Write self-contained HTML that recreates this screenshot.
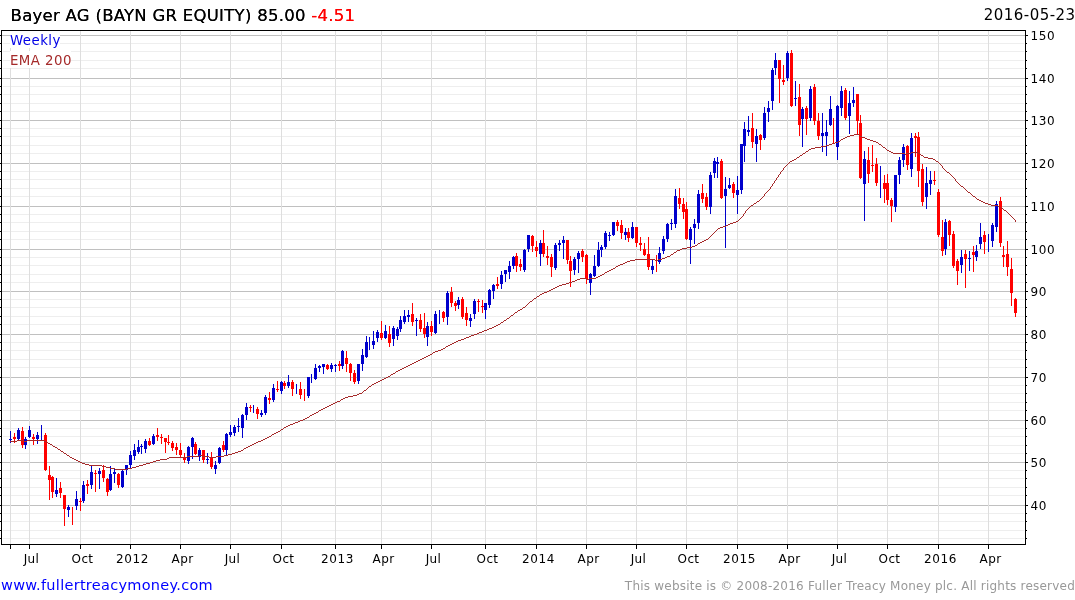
<!DOCTYPE html>
<html lang="en"><head><meta charset="utf-8"><title>Bayer AG (BAYN GR EQUITY) Weekly</title>
<style>
html,body{margin:0;padding:0;background:#fff}
body{width:1075px;height:600px;position:relative;overflow:hidden;font-family:"DejaVu Sans","Liberation Sans",sans-serif}
.t{position:absolute;white-space:nowrap;line-height:1;color:#000}
.ttl{text-shadow:0 0 0 currentColor}
.ttl{font-size:16.5px;letter-spacing:0.27px}
.dat{font-size:15px;letter-spacing:0.45px}
.lg{font-size:13.33px;letter-spacing:0.45px;height:17px;line-height:19px;background:#fff;overflow:hidden}
.ax{font-size:12px;letter-spacing:0.37px}
.num{letter-spacing:0.62px}
.xl{width:61px;text-align:center}
.ft{font-size:14.5px;letter-spacing:0.28px}
.cp{font-size:12px;letter-spacing:0.215px}
.red{color:#ff0000}
</style></head><body>
<svg width="1075" height="600" viewBox="0 0 1075 600" style="position:absolute;left:0;top:0">
<g shape-rendering="crispEdges">
<g fill="#eeeeee">
<rect x="3" y="513" width="1021" height="1"/>
<rect x="3" y="521" width="1021" height="1"/>
<rect x="3" y="530" width="1021" height="1"/>
<rect x="3" y="538" width="1021" height="1"/>
<rect x="3" y="470" width="1021" height="1"/>
<rect x="3" y="478" width="1021" height="1"/>
<rect x="3" y="487" width="1021" height="1"/>
<rect x="3" y="495" width="1021" height="1"/>
<rect x="3" y="428" width="1021" height="1"/>
<rect x="3" y="436" width="1021" height="1"/>
<rect x="3" y="445" width="1021" height="1"/>
<rect x="3" y="453" width="1021" height="1"/>
<rect x="3" y="385" width="1021" height="1"/>
<rect x="3" y="393" width="1021" height="1"/>
<rect x="3" y="402" width="1021" height="1"/>
<rect x="3" y="410" width="1021" height="1"/>
<rect x="3" y="342" width="1021" height="1"/>
<rect x="3" y="350" width="1021" height="1"/>
<rect x="3" y="359" width="1021" height="1"/>
<rect x="3" y="367" width="1021" height="1"/>
<rect x="3" y="299" width="1021" height="1"/>
<rect x="3" y="307" width="1021" height="1"/>
<rect x="3" y="316" width="1021" height="1"/>
<rect x="3" y="324" width="1021" height="1"/>
<rect x="3" y="257" width="1021" height="1"/>
<rect x="3" y="265" width="1021" height="1"/>
<rect x="3" y="274" width="1021" height="1"/>
<rect x="3" y="282" width="1021" height="1"/>
<rect x="3" y="214" width="1021" height="1"/>
<rect x="3" y="222" width="1021" height="1"/>
<rect x="3" y="231" width="1021" height="1"/>
<rect x="3" y="239" width="1021" height="1"/>
<rect x="3" y="171" width="1021" height="1"/>
<rect x="3" y="179" width="1021" height="1"/>
<rect x="3" y="188" width="1021" height="1"/>
<rect x="3" y="196" width="1021" height="1"/>
<rect x="3" y="128" width="1021" height="1"/>
<rect x="3" y="136" width="1021" height="1"/>
<rect x="3" y="145" width="1021" height="1"/>
<rect x="3" y="153" width="1021" height="1"/>
<rect x="3" y="86" width="1021" height="1"/>
<rect x="3" y="94" width="1021" height="1"/>
<rect x="3" y="103" width="1021" height="1"/>
<rect x="3" y="111" width="1021" height="1"/>
<rect x="3" y="43" width="1021" height="1"/>
<rect x="3" y="51" width="1021" height="1"/>
<rect x="3" y="60" width="1021" height="1"/>
<rect x="3" y="68" width="1021" height="1"/>
</g>
<g fill="#c0c0c0">
<rect x="2" y="505" width="1023" height="1"/>
<rect x="2" y="462" width="1023" height="1"/>
<rect x="2" y="420" width="1023" height="1"/>
<rect x="2" y="377" width="1023" height="1"/>
<rect x="2" y="334" width="1023" height="1"/>
<rect x="2" y="291" width="1023" height="1"/>
<rect x="2" y="249" width="1023" height="1"/>
<rect x="2" y="206" width="1023" height="1"/>
<rect x="2" y="163" width="1023" height="1"/>
<rect x="2" y="120" width="1023" height="1"/>
<rect x="2" y="78" width="1023" height="1"/>
<rect x="2" y="35" width="1023" height="1"/>
</g>
<g fill="#dedede">
<rect x="10" y="31" width="1" height="513"/>
<rect x="29" y="31" width="1" height="513"/>
<rect x="80" y="31" width="1" height="513"/>
<rect x="130" y="31" width="1" height="513"/>
<rect x="180" y="31" width="1" height="513"/>
<rect x="230" y="31" width="1" height="513"/>
<rect x="281" y="31" width="1" height="513"/>
<rect x="335" y="31" width="1" height="513"/>
<rect x="381" y="31" width="1" height="513"/>
<rect x="431" y="31" width="1" height="513"/>
<rect x="485" y="31" width="1" height="513"/>
<rect x="536" y="31" width="1" height="513"/>
<rect x="586" y="31" width="1" height="513"/>
<rect x="636" y="31" width="1" height="513"/>
<rect x="686" y="31" width="1" height="513"/>
<rect x="737" y="31" width="1" height="513"/>
<rect x="787" y="31" width="1" height="513"/>
<rect x="837" y="31" width="1" height="513"/>
<rect x="887" y="31" width="1" height="513"/>
<rect x="938" y="31" width="1" height="513"/>
<rect x="988" y="31" width="1" height="513"/>
</g>
<g fill="#000">
<rect x="1" y="30" width="1025" height="1"/>
<rect x="1" y="544" width="1025" height="1"/>
<rect x="1" y="30" width="1" height="515"/>
<rect x="1025" y="30" width="1" height="515"/>
<rect x="10" y="545" width="1" height="4"/>
<rect x="29" y="545" width="1" height="4"/>
<rect x="80" y="545" width="1" height="4"/>
<rect x="130" y="545" width="1" height="4"/>
<rect x="180" y="545" width="1" height="4"/>
<rect x="230" y="545" width="1" height="4"/>
<rect x="281" y="545" width="1" height="4"/>
<rect x="335" y="545" width="1" height="4"/>
<rect x="381" y="545" width="1" height="4"/>
<rect x="431" y="545" width="1" height="4"/>
<rect x="485" y="545" width="1" height="4"/>
<rect x="536" y="545" width="1" height="4"/>
<rect x="586" y="545" width="1" height="4"/>
<rect x="636" y="545" width="1" height="4"/>
<rect x="686" y="545" width="1" height="4"/>
<rect x="737" y="545" width="1" height="4"/>
<rect x="787" y="545" width="1" height="4"/>
<rect x="837" y="545" width="1" height="4"/>
<rect x="887" y="545" width="1" height="4"/>
<rect x="938" y="545" width="1" height="4"/>
<rect x="988" y="545" width="1" height="4"/>
<rect x="1026" y="505" width="2" height="1"/>
<rect x="0" y="505" width="1" height="1"/>
<rect x="1026" y="513" width="1" height="1"/>
<rect x="0" y="513" width="1" height="1"/>
<rect x="1026" y="521" width="1" height="1"/>
<rect x="0" y="521" width="1" height="1"/>
<rect x="1026" y="530" width="1" height="1"/>
<rect x="0" y="530" width="1" height="1"/>
<rect x="1026" y="538" width="1" height="1"/>
<rect x="0" y="538" width="1" height="1"/>
<rect x="1026" y="462" width="2" height="1"/>
<rect x="0" y="462" width="1" height="1"/>
<rect x="1026" y="470" width="1" height="1"/>
<rect x="0" y="470" width="1" height="1"/>
<rect x="1026" y="478" width="1" height="1"/>
<rect x="0" y="478" width="1" height="1"/>
<rect x="1026" y="487" width="1" height="1"/>
<rect x="0" y="487" width="1" height="1"/>
<rect x="1026" y="495" width="1" height="1"/>
<rect x="0" y="495" width="1" height="1"/>
<rect x="1026" y="420" width="2" height="1"/>
<rect x="0" y="420" width="1" height="1"/>
<rect x="1026" y="428" width="1" height="1"/>
<rect x="0" y="428" width="1" height="1"/>
<rect x="1026" y="436" width="1" height="1"/>
<rect x="0" y="436" width="1" height="1"/>
<rect x="1026" y="445" width="1" height="1"/>
<rect x="0" y="445" width="1" height="1"/>
<rect x="1026" y="453" width="1" height="1"/>
<rect x="0" y="453" width="1" height="1"/>
<rect x="1026" y="377" width="2" height="1"/>
<rect x="0" y="377" width="1" height="1"/>
<rect x="1026" y="385" width="1" height="1"/>
<rect x="0" y="385" width="1" height="1"/>
<rect x="1026" y="393" width="1" height="1"/>
<rect x="0" y="393" width="1" height="1"/>
<rect x="1026" y="402" width="1" height="1"/>
<rect x="0" y="402" width="1" height="1"/>
<rect x="1026" y="410" width="1" height="1"/>
<rect x="0" y="410" width="1" height="1"/>
<rect x="1026" y="334" width="2" height="1"/>
<rect x="0" y="334" width="1" height="1"/>
<rect x="1026" y="342" width="1" height="1"/>
<rect x="0" y="342" width="1" height="1"/>
<rect x="1026" y="350" width="1" height="1"/>
<rect x="0" y="350" width="1" height="1"/>
<rect x="1026" y="359" width="1" height="1"/>
<rect x="0" y="359" width="1" height="1"/>
<rect x="1026" y="367" width="1" height="1"/>
<rect x="0" y="367" width="1" height="1"/>
<rect x="1026" y="291" width="2" height="1"/>
<rect x="0" y="291" width="1" height="1"/>
<rect x="1026" y="299" width="1" height="1"/>
<rect x="0" y="299" width="1" height="1"/>
<rect x="1026" y="307" width="1" height="1"/>
<rect x="0" y="307" width="1" height="1"/>
<rect x="1026" y="316" width="1" height="1"/>
<rect x="0" y="316" width="1" height="1"/>
<rect x="1026" y="324" width="1" height="1"/>
<rect x="0" y="324" width="1" height="1"/>
<rect x="1026" y="249" width="2" height="1"/>
<rect x="0" y="249" width="1" height="1"/>
<rect x="1026" y="257" width="1" height="1"/>
<rect x="0" y="257" width="1" height="1"/>
<rect x="1026" y="265" width="1" height="1"/>
<rect x="0" y="265" width="1" height="1"/>
<rect x="1026" y="274" width="1" height="1"/>
<rect x="0" y="274" width="1" height="1"/>
<rect x="1026" y="282" width="1" height="1"/>
<rect x="0" y="282" width="1" height="1"/>
<rect x="1026" y="206" width="2" height="1"/>
<rect x="0" y="206" width="1" height="1"/>
<rect x="1026" y="214" width="1" height="1"/>
<rect x="0" y="214" width="1" height="1"/>
<rect x="1026" y="222" width="1" height="1"/>
<rect x="0" y="222" width="1" height="1"/>
<rect x="1026" y="231" width="1" height="1"/>
<rect x="0" y="231" width="1" height="1"/>
<rect x="1026" y="239" width="1" height="1"/>
<rect x="0" y="239" width="1" height="1"/>
<rect x="1026" y="163" width="2" height="1"/>
<rect x="0" y="163" width="1" height="1"/>
<rect x="1026" y="171" width="1" height="1"/>
<rect x="0" y="171" width="1" height="1"/>
<rect x="1026" y="179" width="1" height="1"/>
<rect x="0" y="179" width="1" height="1"/>
<rect x="1026" y="188" width="1" height="1"/>
<rect x="0" y="188" width="1" height="1"/>
<rect x="1026" y="196" width="1" height="1"/>
<rect x="0" y="196" width="1" height="1"/>
<rect x="1026" y="120" width="2" height="1"/>
<rect x="0" y="120" width="1" height="1"/>
<rect x="1026" y="128" width="1" height="1"/>
<rect x="0" y="128" width="1" height="1"/>
<rect x="1026" y="136" width="1" height="1"/>
<rect x="0" y="136" width="1" height="1"/>
<rect x="1026" y="145" width="1" height="1"/>
<rect x="0" y="145" width="1" height="1"/>
<rect x="1026" y="153" width="1" height="1"/>
<rect x="0" y="153" width="1" height="1"/>
<rect x="1026" y="78" width="2" height="1"/>
<rect x="0" y="78" width="1" height="1"/>
<rect x="1026" y="86" width="1" height="1"/>
<rect x="0" y="86" width="1" height="1"/>
<rect x="1026" y="94" width="1" height="1"/>
<rect x="0" y="94" width="1" height="1"/>
<rect x="1026" y="103" width="1" height="1"/>
<rect x="0" y="103" width="1" height="1"/>
<rect x="1026" y="111" width="1" height="1"/>
<rect x="0" y="111" width="1" height="1"/>
<rect x="1026" y="35" width="2" height="1"/>
<rect x="0" y="35" width="1" height="1"/>
<rect x="1026" y="43" width="1" height="1"/>
<rect x="0" y="43" width="1" height="1"/>
<rect x="1026" y="51" width="1" height="1"/>
<rect x="0" y="51" width="1" height="1"/>
<rect x="1026" y="60" width="1" height="1"/>
<rect x="0" y="60" width="1" height="1"/>
<rect x="1026" y="68" width="1" height="1"/>
<rect x="0" y="68" width="1" height="1"/>
</g>
</g>
<g shape-rendering="crispEdges">
<g fill="#0000cc">
<rect x="10" y="431" width="1" height="12"/>
<rect x="9" y="439" width="3" height="1"/>
<rect x="18" y="428" width="1" height="12"/>
<rect x="17" y="430" width="3" height="9"/>
<rect x="25" y="437" width="1" height="12"/>
<rect x="24" y="439" width="3" height="6"/>
<rect x="29" y="426" width="1" height="12"/>
<rect x="28" y="430" width="3" height="7"/>
<rect x="37" y="432" width="1" height="12"/>
<rect x="36" y="435" width="3" height="4"/>
<rect x="41" y="425" width="1" height="15"/>
<rect x="56" y="478" width="1" height="19"/>
<rect x="55" y="490" width="3" height="4"/>
<rect x="68" y="505" width="1" height="12"/>
<rect x="67" y="507" width="3" height="3"/>
<rect x="76" y="491" width="1" height="19"/>
<rect x="75" y="499" width="3" height="7"/>
<rect x="83" y="481" width="1" height="22"/>
<rect x="82" y="485" width="3" height="16"/>
<rect x="91" y="466" width="1" height="23"/>
<rect x="90" y="472" width="3" height="13"/>
<rect x="99" y="468" width="1" height="21"/>
<rect x="98" y="471" width="3" height="3"/>
<rect x="110" y="466" width="1" height="25"/>
<rect x="109" y="474" width="3" height="16"/>
<rect x="114" y="469" width="1" height="14"/>
<rect x="113" y="472" width="3" height="2"/>
<rect x="122" y="470" width="1" height="18"/>
<rect x="121" y="471" width="3" height="16"/>
<rect x="126" y="465" width="1" height="10"/>
<rect x="125" y="465" width="3" height="5"/>
<rect x="130" y="451" width="1" height="17"/>
<rect x="129" y="455" width="3" height="10"/>
<rect x="134" y="444" width="1" height="16"/>
<rect x="133" y="450" width="3" height="6"/>
<rect x="138" y="440" width="1" height="14"/>
<rect x="137" y="447" width="3" height="5"/>
<rect x="141" y="444" width="1" height="10"/>
<rect x="140" y="446" width="3" height="1"/>
<rect x="145" y="439" width="1" height="14"/>
<rect x="144" y="441" width="3" height="8"/>
<rect x="153" y="434" width="1" height="11"/>
<rect x="152" y="436" width="3" height="8"/>
<rect x="188" y="446" width="1" height="18"/>
<rect x="187" y="447" width="3" height="14"/>
<rect x="192" y="437" width="1" height="22"/>
<rect x="191" y="438" width="3" height="9"/>
<rect x="199" y="448" width="1" height="13"/>
<rect x="198" y="450" width="3" height="7"/>
<rect x="207" y="453" width="1" height="11"/>
<rect x="206" y="459" width="3" height="1"/>
<rect x="215" y="461" width="1" height="13"/>
<rect x="214" y="465" width="3" height="4"/>
<rect x="219" y="447" width="1" height="17"/>
<rect x="218" y="448" width="3" height="15"/>
<rect x="226" y="433" width="1" height="22"/>
<rect x="225" y="434" width="3" height="16"/>
<rect x="230" y="425" width="1" height="12"/>
<rect x="229" y="432" width="3" height="3"/>
<rect x="234" y="425" width="1" height="11"/>
<rect x="233" y="427" width="3" height="6"/>
<rect x="238" y="418" width="1" height="14"/>
<rect x="237" y="426" width="3" height="1"/>
<rect x="242" y="414" width="1" height="24"/>
<rect x="241" y="415" width="3" height="13"/>
<rect x="246" y="403" width="1" height="17"/>
<rect x="245" y="407" width="3" height="8"/>
<rect x="253" y="405" width="1" height="8"/>
<rect x="261" y="410" width="1" height="7"/>
<rect x="260" y="413" width="3" height="2"/>
<rect x="265" y="395" width="1" height="20"/>
<rect x="264" y="397" width="3" height="16"/>
<rect x="273" y="384" width="1" height="18"/>
<rect x="272" y="388" width="3" height="12"/>
<rect x="281" y="381" width="1" height="13"/>
<rect x="280" y="382" width="3" height="9"/>
<rect x="288" y="375" width="1" height="13"/>
<rect x="287" y="382" width="3" height="4"/>
<rect x="296" y="384" width="1" height="10"/>
<rect x="308" y="377" width="1" height="21"/>
<rect x="307" y="377" width="3" height="19"/>
<rect x="311" y="374" width="1" height="9"/>
<rect x="315" y="364" width="1" height="16"/>
<rect x="314" y="368" width="3" height="11"/>
<rect x="319" y="365" width="1" height="7"/>
<rect x="318" y="366" width="3" height="2"/>
<rect x="323" y="364" width="1" height="10"/>
<rect x="322" y="364" width="3" height="3"/>
<rect x="331" y="363" width="1" height="9"/>
<rect x="330" y="365" width="3" height="4"/>
<rect x="335" y="364" width="1" height="8"/>
<rect x="334" y="365" width="3" height="1"/>
<rect x="342" y="350" width="1" height="19"/>
<rect x="341" y="351" width="3" height="15"/>
<rect x="358" y="364" width="1" height="20"/>
<rect x="357" y="364" width="3" height="17"/>
<rect x="362" y="349" width="1" height="22"/>
<rect x="361" y="355" width="3" height="9"/>
<rect x="366" y="336" width="1" height="22"/>
<rect x="365" y="342" width="3" height="15"/>
<rect x="369" y="337" width="1" height="13"/>
<rect x="373" y="331" width="1" height="18"/>
<rect x="372" y="341" width="3" height="4"/>
<rect x="377" y="330" width="1" height="12"/>
<rect x="376" y="332" width="3" height="6"/>
<rect x="385" y="325" width="1" height="14"/>
<rect x="384" y="331" width="3" height="7"/>
<rect x="393" y="326" width="1" height="20"/>
<rect x="392" y="328" width="3" height="11"/>
<rect x="397" y="327" width="1" height="13"/>
<rect x="396" y="329" width="3" height="7"/>
<rect x="400" y="316" width="1" height="16"/>
<rect x="399" y="320" width="3" height="9"/>
<rect x="404" y="310" width="1" height="14"/>
<rect x="403" y="316" width="3" height="6"/>
<rect x="408" y="310" width="1" height="12"/>
<rect x="407" y="315" width="3" height="2"/>
<rect x="416" y="318" width="1" height="18"/>
<rect x="415" y="320" width="3" height="1"/>
<rect x="427" y="322" width="1" height="24"/>
<rect x="426" y="326" width="3" height="11"/>
<rect x="435" y="311" width="1" height="23"/>
<rect x="434" y="314" width="3" height="19"/>
<rect x="439" y="310" width="1" height="14"/>
<rect x="447" y="291" width="1" height="34"/>
<rect x="446" y="293" width="3" height="24"/>
<rect x="458" y="297" width="1" height="12"/>
<rect x="457" y="300" width="3" height="5"/>
<rect x="470" y="314" width="1" height="13"/>
<rect x="469" y="318" width="3" height="3"/>
<rect x="474" y="299" width="1" height="20"/>
<rect x="473" y="301" width="3" height="13"/>
<rect x="485" y="303" width="1" height="16"/>
<rect x="484" y="303" width="3" height="7"/>
<rect x="489" y="289" width="1" height="19"/>
<rect x="488" y="290" width="3" height="15"/>
<rect x="493" y="284" width="1" height="15"/>
<rect x="492" y="285" width="3" height="6"/>
<rect x="501" y="271" width="1" height="18"/>
<rect x="500" y="275" width="3" height="9"/>
<rect x="505" y="270" width="1" height="12"/>
<rect x="504" y="270" width="3" height="4"/>
<rect x="509" y="261" width="1" height="18"/>
<rect x="508" y="266" width="3" height="6"/>
<rect x="513" y="256" width="1" height="13"/>
<rect x="512" y="257" width="3" height="9"/>
<rect x="524" y="249" width="1" height="23"/>
<rect x="523" y="250" width="3" height="20"/>
<rect x="528" y="235" width="1" height="17"/>
<rect x="527" y="235" width="3" height="14"/>
<rect x="540" y="240" width="1" height="26"/>
<rect x="539" y="243" width="3" height="11"/>
<rect x="555" y="243" width="1" height="27"/>
<rect x="554" y="245" width="3" height="23"/>
<rect x="559" y="240" width="1" height="11"/>
<rect x="558" y="243" width="3" height="2"/>
<rect x="563" y="236" width="1" height="23"/>
<rect x="562" y="240" width="3" height="3"/>
<rect x="574" y="257" width="1" height="18"/>
<rect x="573" y="259" width="3" height="11"/>
<rect x="578" y="251" width="1" height="22"/>
<rect x="577" y="253" width="3" height="6"/>
<rect x="590" y="273" width="1" height="22"/>
<rect x="589" y="274" width="3" height="9"/>
<rect x="594" y="255" width="1" height="22"/>
<rect x="593" y="266" width="3" height="10"/>
<rect x="598" y="242" width="1" height="25"/>
<rect x="597" y="250" width="3" height="16"/>
<rect x="601" y="245" width="1" height="12"/>
<rect x="600" y="247" width="3" height="3"/>
<rect x="605" y="231" width="1" height="18"/>
<rect x="604" y="233" width="3" height="14"/>
<rect x="609" y="232" width="1" height="9"/>
<rect x="608" y="235" width="3" height="1"/>
<rect x="613" y="222" width="1" height="14"/>
<rect x="612" y="222" width="3" height="13"/>
<rect x="625" y="228" width="1" height="12"/>
<rect x="624" y="232" width="3" height="3"/>
<rect x="632" y="222" width="1" height="17"/>
<rect x="631" y="227" width="3" height="11"/>
<rect x="652" y="260" width="1" height="14"/>
<rect x="651" y="266" width="3" height="4"/>
<rect x="659" y="247" width="1" height="17"/>
<rect x="658" y="253" width="3" height="9"/>
<rect x="663" y="236" width="1" height="18"/>
<rect x="662" y="239" width="3" height="12"/>
<rect x="667" y="223" width="1" height="19"/>
<rect x="666" y="224" width="3" height="15"/>
<rect x="671" y="219" width="1" height="11"/>
<rect x="670" y="223" width="3" height="1"/>
<rect x="675" y="189" width="1" height="39"/>
<rect x="674" y="196" width="3" height="28"/>
<rect x="690" y="227" width="1" height="37"/>
<rect x="689" y="229" width="3" height="11"/>
<rect x="694" y="219" width="1" height="25"/>
<rect x="693" y="224" width="3" height="4"/>
<rect x="698" y="190" width="1" height="39"/>
<rect x="697" y="194" width="3" height="29"/>
<rect x="710" y="172" width="1" height="42"/>
<rect x="709" y="175" width="3" height="32"/>
<rect x="714" y="158" width="1" height="20"/>
<rect x="713" y="161" width="3" height="12"/>
<rect x="717" y="157" width="1" height="21"/>
<rect x="716" y="162" width="3" height="2"/>
<rect x="725" y="177" width="1" height="71"/>
<rect x="724" y="189" width="3" height="7"/>
<rect x="729" y="178" width="1" height="11"/>
<rect x="728" y="185" width="3" height="3"/>
<rect x="737" y="176" width="1" height="38"/>
<rect x="736" y="190" width="3" height="5"/>
<rect x="741" y="144" width="1" height="50"/>
<rect x="740" y="144" width="3" height="46"/>
<rect x="744" y="122" width="1" height="40"/>
<rect x="743" y="129" width="3" height="17"/>
<rect x="748" y="116" width="1" height="20"/>
<rect x="747" y="130" width="3" height="2"/>
<rect x="756" y="129" width="1" height="33"/>
<rect x="755" y="136" width="3" height="8"/>
<rect x="764" y="107" width="1" height="33"/>
<rect x="763" y="113" width="3" height="25"/>
<rect x="768" y="101" width="1" height="21"/>
<rect x="767" y="108" width="3" height="4"/>
<rect x="772" y="68" width="1" height="42"/>
<rect x="771" y="70" width="3" height="31"/>
<rect x="775" y="53" width="1" height="22"/>
<rect x="774" y="60" width="3" height="8"/>
<rect x="787" y="51" width="1" height="30"/>
<rect x="786" y="53" width="3" height="25"/>
<rect x="795" y="81" width="1" height="25"/>
<rect x="794" y="98" width="3" height="1"/>
<rect x="802" y="107" width="1" height="40"/>
<rect x="801" y="109" width="3" height="10"/>
<rect x="810" y="86" width="1" height="35"/>
<rect x="809" y="89" width="3" height="29"/>
<rect x="822" y="113" width="1" height="39"/>
<rect x="821" y="133" width="3" height="3"/>
<rect x="826" y="120" width="1" height="36"/>
<rect x="825" y="132" width="3" height="4"/>
<rect x="830" y="96" width="1" height="30"/>
<rect x="829" y="109" width="3" height="16"/>
<rect x="837" y="105" width="1" height="55"/>
<rect x="836" y="106" width="3" height="41"/>
<rect x="841" y="86" width="1" height="30"/>
<rect x="840" y="91" width="3" height="17"/>
<rect x="849" y="91" width="1" height="43"/>
<rect x="848" y="103" width="3" height="13"/>
<rect x="853" y="87" width="1" height="20"/>
<rect x="852" y="100" width="3" height="3"/>
<rect x="864" y="151" width="1" height="70"/>
<rect x="863" y="159" width="3" height="25"/>
<rect x="880" y="166" width="1" height="32"/>
<rect x="895" y="175" width="1" height="37"/>
<rect x="894" y="175" width="3" height="32"/>
<rect x="899" y="157" width="1" height="27"/>
<rect x="898" y="160" width="3" height="15"/>
<rect x="903" y="144" width="1" height="23"/>
<rect x="902" y="147" width="3" height="13"/>
<rect x="911" y="133" width="1" height="44"/>
<rect x="910" y="138" width="3" height="31"/>
<rect x="926" y="167" width="1" height="42"/>
<rect x="925" y="183" width="3" height="14"/>
<rect x="930" y="171" width="1" height="24"/>
<rect x="929" y="180" width="3" height="4"/>
<rect x="945" y="219" width="1" height="36"/>
<rect x="944" y="222" width="3" height="27"/>
<rect x="961" y="250" width="1" height="23"/>
<rect x="960" y="257" width="3" height="8"/>
<rect x="969" y="251" width="1" height="20"/>
<rect x="968" y="258" width="3" height="1"/>
<rect x="976" y="245" width="1" height="16"/>
<rect x="975" y="251" width="3" height="6"/>
<rect x="980" y="223" width="1" height="26"/>
<rect x="979" y="237" width="3" height="7"/>
<rect x="988" y="234" width="1" height="18"/>
<rect x="992" y="223" width="1" height="24"/>
<rect x="991" y="225" width="3" height="16"/>
<rect x="996" y="201" width="1" height="31"/>
<rect x="995" y="204" width="3" height="23"/>
</g>
<g fill="#ff0000">
<rect x="14" y="433" width="1" height="10"/>
<rect x="13" y="437" width="3" height="2"/>
<rect x="22" y="427" width="1" height="21"/>
<rect x="21" y="431" width="3" height="14"/>
<rect x="33" y="434" width="1" height="11"/>
<rect x="32" y="437" width="3" height="2"/>
<rect x="45" y="433" width="1" height="38"/>
<rect x="44" y="435" width="3" height="35"/>
<rect x="49" y="466" width="1" height="34"/>
<rect x="48" y="475" width="3" height="5"/>
<rect x="52" y="476" width="1" height="22"/>
<rect x="51" y="477" width="3" height="15"/>
<rect x="60" y="482" width="1" height="16"/>
<rect x="59" y="488" width="3" height="5"/>
<rect x="64" y="495" width="1" height="31"/>
<rect x="63" y="495" width="3" height="14"/>
<rect x="72" y="507" width="1" height="18"/>
<rect x="80" y="498" width="1" height="13"/>
<rect x="79" y="501" width="3" height="1"/>
<rect x="87" y="480" width="1" height="14"/>
<rect x="86" y="484" width="3" height="2"/>
<rect x="95" y="470" width="1" height="22"/>
<rect x="94" y="473" width="3" height="1"/>
<rect x="103" y="465" width="1" height="17"/>
<rect x="102" y="470" width="3" height="8"/>
<rect x="107" y="478" width="1" height="18"/>
<rect x="106" y="479" width="3" height="13"/>
<rect x="118" y="473" width="1" height="15"/>
<rect x="117" y="474" width="3" height="11"/>
<rect x="149" y="438" width="1" height="8"/>
<rect x="148" y="441" width="3" height="4"/>
<rect x="157" y="428" width="1" height="13"/>
<rect x="156" y="435" width="3" height="2"/>
<rect x="161" y="434" width="1" height="10"/>
<rect x="160" y="437" width="3" height="1"/>
<rect x="165" y="438" width="1" height="15"/>
<rect x="164" y="438" width="3" height="4"/>
<rect x="168" y="435" width="1" height="10"/>
<rect x="167" y="442" width="3" height="1"/>
<rect x="172" y="441" width="1" height="10"/>
<rect x="171" y="443" width="3" height="5"/>
<rect x="176" y="443" width="1" height="12"/>
<rect x="175" y="447" width="3" height="3"/>
<rect x="180" y="443" width="1" height="14"/>
<rect x="179" y="450" width="3" height="5"/>
<rect x="184" y="453" width="1" height="10"/>
<rect x="183" y="457" width="3" height="3"/>
<rect x="195" y="442" width="1" height="13"/>
<rect x="194" y="444" width="3" height="10"/>
<rect x="203" y="450" width="1" height="13"/>
<rect x="202" y="450" width="3" height="10"/>
<rect x="211" y="452" width="1" height="17"/>
<rect x="210" y="458" width="3" height="9"/>
<rect x="223" y="441" width="1" height="11"/>
<rect x="222" y="445" width="3" height="5"/>
<rect x="250" y="405" width="1" height="7"/>
<rect x="249" y="407" width="3" height="1"/>
<rect x="257" y="407" width="1" height="12"/>
<rect x="256" y="409" width="3" height="5"/>
<rect x="269" y="392" width="1" height="12"/>
<rect x="268" y="398" width="3" height="2"/>
<rect x="277" y="381" width="1" height="11"/>
<rect x="276" y="389" width="3" height="1"/>
<rect x="284" y="381" width="1" height="8"/>
<rect x="283" y="383" width="3" height="3"/>
<rect x="292" y="380" width="1" height="16"/>
<rect x="291" y="382" width="3" height="7"/>
<rect x="300" y="382" width="1" height="17"/>
<rect x="299" y="389" width="3" height="6"/>
<rect x="304" y="389" width="1" height="12"/>
<rect x="327" y="364" width="1" height="6"/>
<rect x="326" y="365" width="3" height="4"/>
<rect x="339" y="361" width="1" height="10"/>
<rect x="338" y="364" width="3" height="2"/>
<rect x="346" y="351" width="1" height="21"/>
<rect x="345" y="358" width="3" height="6"/>
<rect x="350" y="363" width="1" height="18"/>
<rect x="349" y="364" width="3" height="9"/>
<rect x="354" y="370" width="1" height="14"/>
<rect x="353" y="373" width="3" height="9"/>
<rect x="381" y="321" width="1" height="19"/>
<rect x="380" y="333" width="3" height="5"/>
<rect x="389" y="326" width="1" height="21"/>
<rect x="388" y="334" width="3" height="9"/>
<rect x="412" y="303" width="1" height="23"/>
<rect x="411" y="314" width="3" height="8"/>
<rect x="420" y="314" width="1" height="18"/>
<rect x="419" y="320" width="3" height="9"/>
<rect x="424" y="313" width="1" height="25"/>
<rect x="423" y="328" width="3" height="6"/>
<rect x="431" y="321" width="1" height="15"/>
<rect x="430" y="326" width="3" height="6"/>
<rect x="443" y="311" width="1" height="11"/>
<rect x="442" y="312" width="3" height="6"/>
<rect x="451" y="287" width="1" height="20"/>
<rect x="450" y="292" width="3" height="11"/>
<rect x="455" y="301" width="1" height="10"/>
<rect x="454" y="303" width="3" height="3"/>
<rect x="462" y="297" width="1" height="22"/>
<rect x="461" y="299" width="3" height="18"/>
<rect x="466" y="307" width="1" height="19"/>
<rect x="465" y="313" width="3" height="7"/>
<rect x="478" y="299" width="1" height="13"/>
<rect x="477" y="301" width="3" height="1"/>
<rect x="482" y="300" width="1" height="13"/>
<rect x="481" y="306" width="3" height="1"/>
<rect x="497" y="277" width="1" height="12"/>
<rect x="496" y="284" width="3" height="2"/>
<rect x="516" y="253" width="1" height="19"/>
<rect x="515" y="256" width="3" height="10"/>
<rect x="520" y="259" width="1" height="12"/>
<rect x="519" y="264" width="3" height="3"/>
<rect x="532" y="235" width="1" height="17"/>
<rect x="531" y="236" width="3" height="10"/>
<rect x="536" y="241" width="1" height="16"/>
<rect x="535" y="247" width="3" height="4"/>
<rect x="543" y="230" width="1" height="27"/>
<rect x="542" y="243" width="3" height="11"/>
<rect x="547" y="246" width="1" height="19"/>
<rect x="546" y="256" width="3" height="2"/>
<rect x="551" y="254" width="1" height="23"/>
<rect x="550" y="257" width="3" height="10"/>
<rect x="567" y="240" width="1" height="24"/>
<rect x="566" y="240" width="3" height="20"/>
<rect x="570" y="256" width="1" height="31"/>
<rect x="569" y="261" width="3" height="10"/>
<rect x="582" y="249" width="1" height="13"/>
<rect x="581" y="251" width="3" height="6"/>
<rect x="586" y="254" width="1" height="30"/>
<rect x="585" y="255" width="3" height="24"/>
<rect x="617" y="220" width="1" height="11"/>
<rect x="616" y="222" width="3" height="4"/>
<rect x="621" y="220" width="1" height="19"/>
<rect x="620" y="225" width="3" height="8"/>
<rect x="628" y="228" width="1" height="14"/>
<rect x="627" y="232" width="3" height="6"/>
<rect x="636" y="227" width="1" height="20"/>
<rect x="635" y="227" width="3" height="16"/>
<rect x="640" y="237" width="1" height="14"/>
<rect x="639" y="243" width="3" height="2"/>
<rect x="644" y="243" width="1" height="13"/>
<rect x="643" y="249" width="3" height="6"/>
<rect x="648" y="237" width="1" height="33"/>
<rect x="647" y="254" width="3" height="13"/>
<rect x="656" y="255" width="1" height="17"/>
<rect x="679" y="188" width="1" height="21"/>
<rect x="678" y="198" width="3" height="6"/>
<rect x="683" y="198" width="1" height="21"/>
<rect x="682" y="204" width="3" height="8"/>
<rect x="686" y="202" width="1" height="38"/>
<rect x="685" y="209" width="3" height="30"/>
<rect x="702" y="184" width="1" height="19"/>
<rect x="701" y="193" width="3" height="6"/>
<rect x="706" y="193" width="1" height="17"/>
<rect x="705" y="197" width="3" height="10"/>
<rect x="721" y="159" width="1" height="40"/>
<rect x="720" y="161" width="3" height="37"/>
<rect x="733" y="182" width="1" height="16"/>
<rect x="732" y="184" width="3" height="9"/>
<rect x="752" y="113" width="1" height="35"/>
<rect x="751" y="128" width="3" height="14"/>
<rect x="760" y="134" width="1" height="16"/>
<rect x="759" y="135" width="3" height="5"/>
<rect x="779" y="60" width="1" height="43"/>
<rect x="778" y="60" width="3" height="19"/>
<rect x="783" y="65" width="1" height="20"/>
<rect x="782" y="80" width="3" height="2"/>
<rect x="791" y="50" width="1" height="57"/>
<rect x="790" y="53" width="3" height="53"/>
<rect x="799" y="84" width="1" height="52"/>
<rect x="798" y="97" width="3" height="28"/>
<rect x="806" y="106" width="1" height="29"/>
<rect x="805" y="108" width="3" height="11"/>
<rect x="814" y="84" width="1" height="41"/>
<rect x="813" y="87" width="3" height="34"/>
<rect x="818" y="113" width="1" height="27"/>
<rect x="817" y="121" width="3" height="15"/>
<rect x="833" y="118" width="1" height="25"/>
<rect x="845" y="88" width="1" height="32"/>
<rect x="844" y="90" width="3" height="28"/>
<rect x="857" y="94" width="1" height="40"/>
<rect x="856" y="94" width="3" height="27"/>
<rect x="860" y="115" width="1" height="64"/>
<rect x="859" y="123" width="3" height="55"/>
<rect x="868" y="147" width="1" height="36"/>
<rect x="867" y="160" width="3" height="14"/>
<rect x="872" y="145" width="1" height="27"/>
<rect x="871" y="165" width="3" height="1"/>
<rect x="876" y="158" width="1" height="28"/>
<rect x="875" y="164" width="3" height="19"/>
<rect x="884" y="175" width="1" height="28"/>
<rect x="883" y="183" width="3" height="6"/>
<rect x="887" y="174" width="1" height="31"/>
<rect x="886" y="183" width="3" height="17"/>
<rect x="891" y="198" width="1" height="24"/>
<rect x="890" y="200" width="3" height="6"/>
<rect x="907" y="145" width="1" height="25"/>
<rect x="906" y="146" width="3" height="19"/>
<rect x="915" y="133" width="1" height="24"/>
<rect x="914" y="136" width="3" height="2"/>
<rect x="918" y="132" width="1" height="55"/>
<rect x="917" y="137" width="3" height="34"/>
<rect x="922" y="164" width="1" height="42"/>
<rect x="921" y="169" width="3" height="33"/>
<rect x="934" y="171" width="1" height="14"/>
<rect x="933" y="180" width="3" height="1"/>
<rect x="938" y="189" width="1" height="48"/>
<rect x="937" y="192" width="3" height="43"/>
<rect x="942" y="220" width="1" height="36"/>
<rect x="941" y="237" width="3" height="14"/>
<rect x="949" y="220" width="1" height="26"/>
<rect x="948" y="221" width="3" height="14"/>
<rect x="953" y="231" width="1" height="37"/>
<rect x="952" y="234" width="3" height="32"/>
<rect x="957" y="259" width="1" height="26"/>
<rect x="956" y="261" width="3" height="10"/>
<rect x="965" y="250" width="1" height="38"/>
<rect x="964" y="254" width="3" height="5"/>
<rect x="973" y="246" width="1" height="26"/>
<rect x="972" y="252" width="3" height="3"/>
<rect x="984" y="231" width="1" height="23"/>
<rect x="983" y="235" width="3" height="7"/>
<rect x="1000" y="197" width="1" height="50"/>
<rect x="999" y="201" width="3" height="42"/>
<rect x="1003" y="246" width="1" height="21"/>
<rect x="1002" y="255" width="3" height="2"/>
<rect x="1007" y="241" width="1" height="35"/>
<rect x="1006" y="254" width="3" height="13"/>
<rect x="1011" y="258" width="1" height="48"/>
<rect x="1010" y="269" width="3" height="24"/>
<rect x="1015" y="298" width="1" height="19"/>
<rect x="1014" y="299" width="3" height="14"/>
</g>
</g>
<g shape-rendering="crispEdges" fill="#a52a2a">
<rect x="10" y="441" width="7" height="1"/>
<rect x="17" y="440" width="6" height="1"/>
<rect x="23" y="441" width="4" height="1"/>
<rect x="27" y="440" width="17" height="1"/>
<rect x="44" y="441" width="2" height="1"/>
<rect x="46" y="442" width="2" height="1"/>
<rect x="48" y="443" width="2" height="1"/>
<rect x="50" y="444" width="2" height="1"/>
<rect x="52" y="445" width="1" height="1"/>
<rect x="53" y="446" width="2" height="1"/>
<rect x="55" y="447" width="2" height="1"/>
<rect x="57" y="448" width="1" height="1"/>
<rect x="58" y="449" width="2" height="1"/>
<rect x="60" y="450" width="1" height="1"/>
<rect x="61" y="451" width="2" height="1"/>
<rect x="63" y="452" width="1" height="1"/>
<rect x="64" y="453" width="2" height="1"/>
<rect x="66" y="454" width="1" height="1"/>
<rect x="67" y="455" width="2" height="1"/>
<rect x="69" y="456" width="1" height="1"/>
<rect x="70" y="457" width="2" height="1"/>
<rect x="72" y="458" width="2" height="1"/>
<rect x="74" y="459" width="2" height="1"/>
<rect x="76" y="460" width="2" height="1"/>
<rect x="78" y="461" width="2" height="1"/>
<rect x="80" y="462" width="2" height="1"/>
<rect x="82" y="463" width="3" height="1"/>
<rect x="85" y="464" width="4" height="1"/>
<rect x="89" y="465" width="13" height="1"/>
<rect x="102" y="466" width="4" height="1"/>
<rect x="106" y="467" width="4" height="1"/>
<rect x="110" y="468" width="5" height="1"/>
<rect x="115" y="469" width="12" height="1"/>
<rect x="127" y="468" width="5" height="1"/>
<rect x="132" y="467" width="4" height="1"/>
<rect x="136" y="466" width="3" height="1"/>
<rect x="139" y="465" width="4" height="1"/>
<rect x="143" y="464" width="3" height="1"/>
<rect x="146" y="463" width="4" height="1"/>
<rect x="150" y="462" width="3" height="1"/>
<rect x="153" y="461" width="3" height="1"/>
<rect x="156" y="460" width="4" height="1"/>
<rect x="160" y="459" width="7" height="1"/>
<rect x="167" y="458" width="2" height="1"/>
<rect x="169" y="457" width="18" height="1"/>
<rect x="187" y="456" width="12" height="1"/>
<rect x="199" y="455" width="3" height="1"/>
<rect x="202" y="456" width="7" height="1"/>
<rect x="209" y="457" width="7" height="1"/>
<rect x="216" y="456" width="8" height="1"/>
<rect x="224" y="455" width="4" height="1"/>
<rect x="228" y="454" width="4" height="1"/>
<rect x="232" y="453" width="3" height="1"/>
<rect x="235" y="452" width="3" height="1"/>
<rect x="238" y="451" width="3" height="1"/>
<rect x="241" y="450" width="2" height="1"/>
<rect x="243" y="449" width="1" height="1"/>
<rect x="244" y="448" width="2" height="1"/>
<rect x="246" y="447" width="2" height="1"/>
<rect x="248" y="446" width="2" height="1"/>
<rect x="250" y="445" width="2" height="1"/>
<rect x="252" y="444" width="2" height="1"/>
<rect x="254" y="443" width="2" height="1"/>
<rect x="256" y="442" width="2" height="1"/>
<rect x="258" y="441" width="3" height="1"/>
<rect x="261" y="440" width="2" height="1"/>
<rect x="263" y="439" width="2" height="1"/>
<rect x="265" y="438" width="2" height="1"/>
<rect x="267" y="437" width="2" height="1"/>
<rect x="269" y="436" width="2" height="1"/>
<rect x="271" y="435" width="1" height="1"/>
<rect x="272" y="434" width="2" height="1"/>
<rect x="274" y="433" width="2" height="1"/>
<rect x="276" y="432" width="2" height="1"/>
<rect x="278" y="431" width="2" height="1"/>
<rect x="280" y="430" width="1" height="1"/>
<rect x="281" y="429" width="2" height="1"/>
<rect x="283" y="428" width="1" height="1"/>
<rect x="284" y="427" width="2" height="1"/>
<rect x="286" y="426" width="2" height="1"/>
<rect x="288" y="425" width="2" height="1"/>
<rect x="290" y="424" width="3" height="1"/>
<rect x="293" y="423" width="2" height="1"/>
<rect x="295" y="422" width="3" height="1"/>
<rect x="298" y="421" width="2" height="1"/>
<rect x="300" y="420" width="3" height="1"/>
<rect x="303" y="419" width="2" height="1"/>
<rect x="305" y="418" width="2" height="1"/>
<rect x="307" y="417" width="2" height="1"/>
<rect x="309" y="416" width="1" height="1"/>
<rect x="310" y="415" width="2" height="1"/>
<rect x="312" y="414" width="2" height="1"/>
<rect x="314" y="413" width="2" height="1"/>
<rect x="316" y="412" width="2" height="1"/>
<rect x="318" y="411" width="1" height="1"/>
<rect x="319" y="410" width="2" height="1"/>
<rect x="321" y="409" width="2" height="1"/>
<rect x="323" y="408" width="2" height="1"/>
<rect x="325" y="407" width="2" height="1"/>
<rect x="327" y="406" width="2" height="1"/>
<rect x="329" y="405" width="2" height="1"/>
<rect x="331" y="404" width="2" height="1"/>
<rect x="333" y="403" width="2" height="1"/>
<rect x="335" y="402" width="2" height="1"/>
<rect x="337" y="401" width="3" height="1"/>
<rect x="340" y="400" width="1" height="1"/>
<rect x="341" y="399" width="2" height="1"/>
<rect x="343" y="398" width="2" height="1"/>
<rect x="345" y="397" width="3" height="1"/>
<rect x="348" y="396" width="5" height="1"/>
<rect x="353" y="395" width="4" height="1"/>
<rect x="357" y="394" width="2" height="1"/>
<rect x="359" y="393" width="3" height="1"/>
<rect x="362" y="392" width="1" height="1"/>
<rect x="363" y="391" width="1" height="1"/>
<rect x="364" y="390" width="2" height="1"/>
<rect x="366" y="389" width="1" height="1"/>
<rect x="367" y="388" width="1" height="1"/>
<rect x="368" y="387" width="1" height="1"/>
<rect x="369" y="386" width="2" height="1"/>
<rect x="371" y="385" width="1" height="1"/>
<rect x="372" y="384" width="2" height="1"/>
<rect x="374" y="383" width="2" height="1"/>
<rect x="376" y="382" width="2" height="1"/>
<rect x="378" y="381" width="2" height="1"/>
<rect x="380" y="380" width="2" height="1"/>
<rect x="382" y="379" width="2" height="1"/>
<rect x="384" y="378" width="2" height="1"/>
<rect x="386" y="377" width="2" height="1"/>
<rect x="388" y="376" width="2" height="1"/>
<rect x="390" y="375" width="1" height="1"/>
<rect x="391" y="374" width="2" height="1"/>
<rect x="393" y="373" width="2" height="1"/>
<rect x="395" y="372" width="1" height="1"/>
<rect x="396" y="371" width="2" height="1"/>
<rect x="398" y="370" width="2" height="1"/>
<rect x="400" y="369" width="2" height="1"/>
<rect x="402" y="368" width="2" height="1"/>
<rect x="404" y="367" width="2" height="1"/>
<rect x="406" y="366" width="2" height="1"/>
<rect x="408" y="365" width="2" height="1"/>
<rect x="410" y="364" width="2" height="1"/>
<rect x="412" y="363" width="2" height="1"/>
<rect x="414" y="362" width="2" height="1"/>
<rect x="416" y="361" width="2" height="1"/>
<rect x="418" y="360" width="2" height="1"/>
<rect x="420" y="359" width="2" height="1"/>
<rect x="422" y="358" width="2" height="1"/>
<rect x="424" y="357" width="2" height="1"/>
<rect x="426" y="356" width="2" height="1"/>
<rect x="428" y="355" width="2" height="1"/>
<rect x="430" y="354" width="2" height="1"/>
<rect x="432" y="353" width="1" height="1"/>
<rect x="433" y="352" width="2" height="1"/>
<rect x="435" y="351" width="3" height="1"/>
<rect x="438" y="350" width="3" height="1"/>
<rect x="441" y="349" width="2" height="1"/>
<rect x="443" y="348" width="2" height="1"/>
<rect x="445" y="347" width="1" height="1"/>
<rect x="446" y="346" width="2" height="1"/>
<rect x="448" y="345" width="2" height="1"/>
<rect x="450" y="344" width="2" height="1"/>
<rect x="452" y="343" width="2" height="1"/>
<rect x="454" y="342" width="2" height="1"/>
<rect x="456" y="341" width="2" height="1"/>
<rect x="458" y="340" width="3" height="1"/>
<rect x="461" y="339" width="3" height="1"/>
<rect x="464" y="338" width="2" height="1"/>
<rect x="466" y="337" width="3" height="1"/>
<rect x="469" y="336" width="2" height="1"/>
<rect x="471" y="335" width="3" height="1"/>
<rect x="474" y="334" width="3" height="1"/>
<rect x="477" y="333" width="2" height="1"/>
<rect x="479" y="332" width="3" height="1"/>
<rect x="482" y="331" width="2" height="1"/>
<rect x="484" y="330" width="3" height="1"/>
<rect x="487" y="329" width="2" height="1"/>
<rect x="489" y="328" width="3" height="1"/>
<rect x="492" y="327" width="2" height="1"/>
<rect x="494" y="326" width="2" height="1"/>
<rect x="496" y="325" width="2" height="1"/>
<rect x="498" y="324" width="2" height="1"/>
<rect x="500" y="323" width="1" height="1"/>
<rect x="501" y="322" width="2" height="1"/>
<rect x="503" y="321" width="1" height="1"/>
<rect x="504" y="320" width="2" height="1"/>
<rect x="506" y="319" width="1" height="1"/>
<rect x="507" y="318" width="2" height="1"/>
<rect x="509" y="317" width="1" height="1"/>
<rect x="510" y="316" width="1" height="1"/>
<rect x="511" y="315" width="2" height="1"/>
<rect x="513" y="314" width="1" height="1"/>
<rect x="514" y="313" width="1" height="1"/>
<rect x="515" y="312" width="2" height="1"/>
<rect x="517" y="311" width="1" height="1"/>
<rect x="518" y="310" width="2" height="1"/>
<rect x="520" y="309" width="2" height="1"/>
<rect x="522" y="308" width="1" height="1"/>
<rect x="523" y="307" width="2" height="1"/>
<rect x="525" y="306" width="1" height="1"/>
<rect x="526" y="305" width="1" height="1"/>
<rect x="527" y="304" width="1" height="1"/>
<rect x="528" y="303" width="1" height="1"/>
<rect x="529" y="302" width="1" height="1"/>
<rect x="530" y="301" width="2" height="1"/>
<rect x="532" y="300" width="1" height="1"/>
<rect x="533" y="299" width="1" height="1"/>
<rect x="534" y="298" width="2" height="1"/>
<rect x="536" y="297" width="1" height="1"/>
<rect x="537" y="296" width="2" height="1"/>
<rect x="539" y="295" width="1" height="1"/>
<rect x="540" y="294" width="2" height="1"/>
<rect x="542" y="293" width="2" height="1"/>
<rect x="544" y="292" width="3" height="1"/>
<rect x="547" y="291" width="2" height="1"/>
<rect x="549" y="290" width="2" height="1"/>
<rect x="551" y="289" width="2" height="1"/>
<rect x="553" y="288" width="2" height="1"/>
<rect x="555" y="287" width="2" height="1"/>
<rect x="557" y="286" width="2" height="1"/>
<rect x="559" y="285" width="3" height="1"/>
<rect x="562" y="284" width="4" height="1"/>
<rect x="566" y="283" width="3" height="1"/>
<rect x="569" y="282" width="3" height="1"/>
<rect x="572" y="281" width="3" height="1"/>
<rect x="575" y="280" width="2" height="1"/>
<rect x="577" y="279" width="3" height="1"/>
<rect x="580" y="278" width="6" height="1"/>
<rect x="586" y="279" width="3" height="1"/>
<rect x="589" y="278" width="7" height="1"/>
<rect x="596" y="277" width="2" height="1"/>
<rect x="598" y="276" width="2" height="1"/>
<rect x="600" y="275" width="2" height="1"/>
<rect x="602" y="274" width="2" height="1"/>
<rect x="604" y="273" width="1" height="1"/>
<rect x="605" y="272" width="2" height="1"/>
<rect x="607" y="271" width="2" height="1"/>
<rect x="609" y="270" width="2" height="1"/>
<rect x="611" y="269" width="2" height="1"/>
<rect x="613" y="268" width="2" height="1"/>
<rect x="615" y="267" width="1" height="1"/>
<rect x="616" y="266" width="2" height="1"/>
<rect x="618" y="265" width="2" height="1"/>
<rect x="620" y="264" width="3" height="1"/>
<rect x="623" y="263" width="2" height="1"/>
<rect x="625" y="262" width="2" height="1"/>
<rect x="627" y="261" width="3" height="1"/>
<rect x="630" y="260" width="5" height="1"/>
<rect x="635" y="259" width="20" height="1"/>
<rect x="655" y="260" width="3" height="1"/>
<rect x="658" y="259" width="4" height="1"/>
<rect x="662" y="258" width="3" height="1"/>
<rect x="665" y="257" width="2" height="1"/>
<rect x="667" y="256" width="3" height="1"/>
<rect x="670" y="255" width="1" height="1"/>
<rect x="671" y="254" width="2" height="1"/>
<rect x="673" y="253" width="1" height="1"/>
<rect x="674" y="252" width="2" height="1"/>
<rect x="676" y="251" width="1" height="1"/>
<rect x="677" y="250" width="3" height="1"/>
<rect x="680" y="249" width="2" height="1"/>
<rect x="682" y="248" width="5" height="1"/>
<rect x="687" y="247" width="5" height="1"/>
<rect x="692" y="246" width="3" height="1"/>
<rect x="695" y="245" width="2" height="1"/>
<rect x="697" y="244" width="1" height="1"/>
<rect x="698" y="243" width="2" height="1"/>
<rect x="700" y="242" width="2" height="1"/>
<rect x="702" y="241" width="2" height="1"/>
<rect x="704" y="240" width="2" height="1"/>
<rect x="706" y="239" width="2" height="1"/>
<rect x="708" y="238" width="1" height="1"/>
<rect x="709" y="237" width="1" height="1"/>
<rect x="710" y="236" width="1" height="1"/>
<rect x="711" y="235" width="1" height="1"/>
<rect x="712" y="234" width="1" height="1"/>
<rect x="713" y="233" width="1" height="1"/>
<rect x="714" y="232" width="1" height="1"/>
<rect x="715" y="231" width="1" height="1"/>
<rect x="716" y="230" width="1" height="1"/>
<rect x="717" y="229" width="1" height="1"/>
<rect x="718" y="228" width="2" height="1"/>
<rect x="720" y="227" width="3" height="1"/>
<rect x="723" y="226" width="3" height="1"/>
<rect x="726" y="225" width="2" height="1"/>
<rect x="728" y="224" width="2" height="1"/>
<rect x="730" y="223" width="3" height="1"/>
<rect x="733" y="222" width="3" height="1"/>
<rect x="736" y="221" width="2" height="1"/>
<rect x="738" y="220" width="1" height="1"/>
<rect x="739" y="219" width="1" height="1"/>
<rect x="740" y="218" width="1" height="1"/>
<rect x="741" y="217" width="1" height="1"/>
<rect x="742" y="216" width="1" height="1"/>
<rect x="743" y="215" width="1" height="1"/>
<rect x="743" y="214" width="1" height="1"/>
<rect x="744" y="213" width="1" height="1"/>
<rect x="745" y="212" width="1" height="1"/>
<rect x="745" y="211" width="1" height="1"/>
<rect x="746" y="210" width="1" height="1"/>
<rect x="747" y="209" width="1" height="1"/>
<rect x="748" y="208" width="1" height="1"/>
<rect x="749" y="207" width="1" height="1"/>
<rect x="750" y="206" width="1" height="1"/>
<rect x="751" y="205" width="2" height="1"/>
<rect x="753" y="204" width="1" height="1"/>
<rect x="754" y="203" width="2" height="1"/>
<rect x="756" y="202" width="1" height="1"/>
<rect x="757" y="201" width="2" height="1"/>
<rect x="759" y="200" width="1" height="1"/>
<rect x="760" y="199" width="1" height="1"/>
<rect x="761" y="198" width="1" height="1"/>
<rect x="762" y="197" width="1" height="1"/>
<rect x="763" y="196" width="1" height="1"/>
<rect x="764" y="195" width="1" height="1"/>
<rect x="764" y="194" width="1" height="1"/>
<rect x="765" y="193" width="1" height="1"/>
<rect x="766" y="192" width="1" height="1"/>
<rect x="767" y="191" width="1" height="1"/>
<rect x="768" y="190" width="1" height="1"/>
<rect x="769" y="189" width="1" height="1"/>
<rect x="770" y="188" width="1" height="1"/>
<rect x="770" y="187" width="1" height="1"/>
<rect x="771" y="186" width="1" height="1"/>
<rect x="772" y="185" width="1" height="1"/>
<rect x="772" y="184" width="1" height="1"/>
<rect x="773" y="183" width="1" height="1"/>
<rect x="774" y="182" width="1" height="1"/>
<rect x="774" y="181" width="1" height="1"/>
<rect x="775" y="180" width="1" height="1"/>
<rect x="776" y="179" width="1" height="1"/>
<rect x="776" y="178" width="1" height="1"/>
<rect x="777" y="177" width="1" height="1"/>
<rect x="778" y="176" width="1" height="1"/>
<rect x="778" y="175" width="1" height="1"/>
<rect x="779" y="174" width="1" height="1"/>
<rect x="780" y="173" width="1" height="1"/>
<rect x="780" y="172" width="1" height="1"/>
<rect x="781" y="171" width="1" height="1"/>
<rect x="782" y="170" width="1" height="1"/>
<rect x="783" y="169" width="1" height="1"/>
<rect x="783" y="168" width="1" height="1"/>
<rect x="784" y="167" width="1" height="1"/>
<rect x="785" y="166" width="1" height="1"/>
<rect x="786" y="165" width="1" height="1"/>
<rect x="787" y="164" width="1" height="1"/>
<rect x="788" y="163" width="1" height="1"/>
<rect x="789" y="162" width="1" height="1"/>
<rect x="790" y="161" width="2" height="1"/>
<rect x="792" y="160" width="2" height="1"/>
<rect x="794" y="159" width="2" height="1"/>
<rect x="796" y="158" width="1" height="1"/>
<rect x="797" y="157" width="2" height="1"/>
<rect x="799" y="156" width="1" height="1"/>
<rect x="800" y="155" width="2" height="1"/>
<rect x="802" y="154" width="1" height="1"/>
<rect x="803" y="153" width="2" height="1"/>
<rect x="805" y="152" width="1" height="1"/>
<rect x="806" y="151" width="2" height="1"/>
<rect x="808" y="150" width="1" height="1"/>
<rect x="809" y="149" width="2" height="1"/>
<rect x="811" y="148" width="4" height="1"/>
<rect x="815" y="147" width="6" height="1"/>
<rect x="821" y="146" width="5" height="1"/>
<rect x="826" y="145" width="3" height="1"/>
<rect x="829" y="144" width="3" height="1"/>
<rect x="832" y="143" width="3" height="1"/>
<rect x="835" y="142" width="3" height="1"/>
<rect x="838" y="141" width="2" height="1"/>
<rect x="840" y="140" width="1" height="1"/>
<rect x="841" y="139" width="2" height="1"/>
<rect x="843" y="138" width="2" height="1"/>
<rect x="845" y="137" width="2" height="1"/>
<rect x="847" y="136" width="3" height="1"/>
<rect x="850" y="135" width="4" height="1"/>
<rect x="854" y="134" width="5" height="1"/>
<rect x="859" y="135" width="1" height="1"/>
<rect x="860" y="136" width="2" height="1"/>
<rect x="862" y="137" width="3" height="1"/>
<rect x="865" y="138" width="2" height="1"/>
<rect x="867" y="139" width="3" height="1"/>
<rect x="870" y="140" width="3" height="1"/>
<rect x="873" y="141" width="3" height="1"/>
<rect x="876" y="142" width="2" height="1"/>
<rect x="878" y="143" width="1" height="1"/>
<rect x="879" y="144" width="2" height="1"/>
<rect x="881" y="145" width="1" height="1"/>
<rect x="882" y="146" width="1" height="1"/>
<rect x="883" y="147" width="2" height="1"/>
<rect x="885" y="148" width="1" height="1"/>
<rect x="886" y="149" width="1" height="1"/>
<rect x="887" y="150" width="2" height="1"/>
<rect x="889" y="151" width="2" height="1"/>
<rect x="891" y="152" width="2" height="1"/>
<rect x="893" y="153" width="12" height="1"/>
<rect x="905" y="154" width="1" height="1"/>
<rect x="906" y="153" width="5" height="1"/>
<rect x="911" y="152" width="7" height="1"/>
<rect x="918" y="153" width="2" height="1"/>
<rect x="920" y="154" width="1" height="1"/>
<rect x="921" y="155" width="2" height="1"/>
<rect x="923" y="156" width="1" height="1"/>
<rect x="924" y="157" width="4" height="1"/>
<rect x="928" y="158" width="5" height="1"/>
<rect x="933" y="159" width="2" height="1"/>
<rect x="935" y="160" width="1" height="1"/>
<rect x="936" y="161" width="2" height="1"/>
<rect x="938" y="162" width="1" height="1"/>
<rect x="939" y="163" width="1" height="1"/>
<rect x="940" y="164" width="1" height="1"/>
<rect x="941" y="165" width="1" height="1"/>
<rect x="942" y="166" width="1" height="1"/>
<rect x="942" y="167" width="1" height="1"/>
<rect x="943" y="168" width="1" height="1"/>
<rect x="944" y="169" width="1" height="1"/>
<rect x="945" y="170" width="1" height="1"/>
<rect x="946" y="171" width="1" height="1"/>
<rect x="947" y="172" width="2" height="1"/>
<rect x="949" y="173" width="1" height="1"/>
<rect x="950" y="174" width="1" height="1"/>
<rect x="951" y="175" width="1" height="1"/>
<rect x="952" y="176" width="1" height="1"/>
<rect x="953" y="177" width="1" height="1"/>
<rect x="954" y="178" width="1" height="1"/>
<rect x="955" y="179" width="1" height="1"/>
<rect x="955" y="180" width="1" height="1"/>
<rect x="956" y="181" width="1" height="1"/>
<rect x="957" y="182" width="1" height="1"/>
<rect x="958" y="183" width="1" height="1"/>
<rect x="959" y="184" width="1" height="1"/>
<rect x="960" y="185" width="1" height="1"/>
<rect x="961" y="186" width="2" height="1"/>
<rect x="963" y="187" width="1" height="1"/>
<rect x="964" y="188" width="1" height="1"/>
<rect x="965" y="189" width="1" height="1"/>
<rect x="966" y="190" width="1" height="1"/>
<rect x="967" y="191" width="1" height="1"/>
<rect x="968" y="192" width="2" height="1"/>
<rect x="970" y="193" width="1" height="1"/>
<rect x="971" y="194" width="1" height="1"/>
<rect x="972" y="195" width="1" height="1"/>
<rect x="973" y="196" width="2" height="1"/>
<rect x="975" y="197" width="1" height="1"/>
<rect x="976" y="198" width="1" height="1"/>
<rect x="977" y="199" width="2" height="1"/>
<rect x="979" y="200" width="2" height="1"/>
<rect x="981" y="201" width="2" height="1"/>
<rect x="983" y="202" width="2" height="1"/>
<rect x="985" y="203" width="3" height="1"/>
<rect x="988" y="204" width="3" height="1"/>
<rect x="991" y="205" width="7" height="1"/>
<rect x="998" y="206" width="2" height="1"/>
<rect x="1000" y="207" width="1" height="1"/>
<rect x="1001" y="208" width="2" height="1"/>
<rect x="1003" y="209" width="1" height="1"/>
<rect x="1004" y="210" width="2" height="1"/>
<rect x="1006" y="211" width="1" height="1"/>
<rect x="1007" y="212" width="1" height="1"/>
<rect x="1008" y="213" width="1" height="1"/>
<rect x="1009" y="214" width="1" height="1"/>
<rect x="1010" y="215" width="1" height="1"/>
<rect x="1011" y="216" width="1" height="1"/>
<rect x="1012" y="217" width="1" height="1"/>
<rect x="1013" y="218" width="1" height="1"/>
<rect x="1014" y="219" width="1" height="1"/>
<rect x="1015" y="220" width="1" height="1"/>
<rect x="1015" y="221" width="1" height="1"/>
</g>
</svg>
<div class="t ttl" style="left:10.6px;top:8px">Bayer AG (BAYN GR EQUITY) 85.00 <span class="red">-4.51</span></div>
<div class="t dat" style="right:-0.5px;top:8px">2016-05-23</div>
<div class="t lg" style="left:10px;top:31px;width:50px;color:#0000e6">Weekly</div>
<div class="t lg" style="left:10px;top:51px;width:61px;color:#a52a2a">EMA 200</div>
<div class="t ax num" style="left:1030.6px;top:500px">40</div>
<div class="t ax num" style="left:1030.6px;top:457px">50</div>
<div class="t ax num" style="left:1030.6px;top:415px">60</div>
<div class="t ax num" style="left:1030.6px;top:372px">70</div>
<div class="t ax num" style="left:1030.6px;top:329px">80</div>
<div class="t ax num" style="left:1030.6px;top:286px">90</div>
<div class="t ax num" style="left:1030.6px;top:244px">100</div>
<div class="t ax num" style="left:1030.6px;top:201px">110</div>
<div class="t ax num" style="left:1030.6px;top:158px">120</div>
<div class="t ax num" style="left:1030.6px;top:115px">130</div>
<div class="t ax num" style="left:1030.6px;top:73px">140</div>
<div class="t ax num" style="left:1030.6px;top:30px">150</div>
<div class="t ax xl" style="left:1px;top:553px">Jul</div>
<div class="t ax xl" style="left:52px;top:553px">Oct</div>
<div class="t ax xl num" style="left:102px;top:553px">2012</div>
<div class="t ax xl" style="left:152px;top:553px">Apr</div>
<div class="t ax xl" style="left:202px;top:553px">Jul</div>
<div class="t ax xl" style="left:253px;top:553px">Oct</div>
<div class="t ax xl num" style="left:307px;top:553px">2013</div>
<div class="t ax xl" style="left:353px;top:553px">Apr</div>
<div class="t ax xl" style="left:403px;top:553px">Jul</div>
<div class="t ax xl" style="left:457px;top:553px">Oct</div>
<div class="t ax xl num" style="left:508px;top:553px">2014</div>
<div class="t ax xl" style="left:558px;top:553px">Apr</div>
<div class="t ax xl" style="left:608px;top:553px">Jul</div>
<div class="t ax xl" style="left:658px;top:553px">Oct</div>
<div class="t ax xl num" style="left:709px;top:553px">2015</div>
<div class="t ax xl" style="left:759px;top:553px">Apr</div>
<div class="t ax xl" style="left:809px;top:553px">Jul</div>
<div class="t ax xl" style="left:859px;top:553px">Oct</div>
<div class="t ax xl num" style="left:910px;top:553px">2016</div>
<div class="t ax xl" style="left:960px;top:553px">Apr</div>
<div class="t ft" style="left:1px;top:578px;color:#0000ff">www.fullertreacymoney.com</div>
<div class="t cp" style="right:0px;top:580px;color:#999">This website is © 2008-2016 Fuller Treacy Money plc. All rights reserved</div>
</body></html>
